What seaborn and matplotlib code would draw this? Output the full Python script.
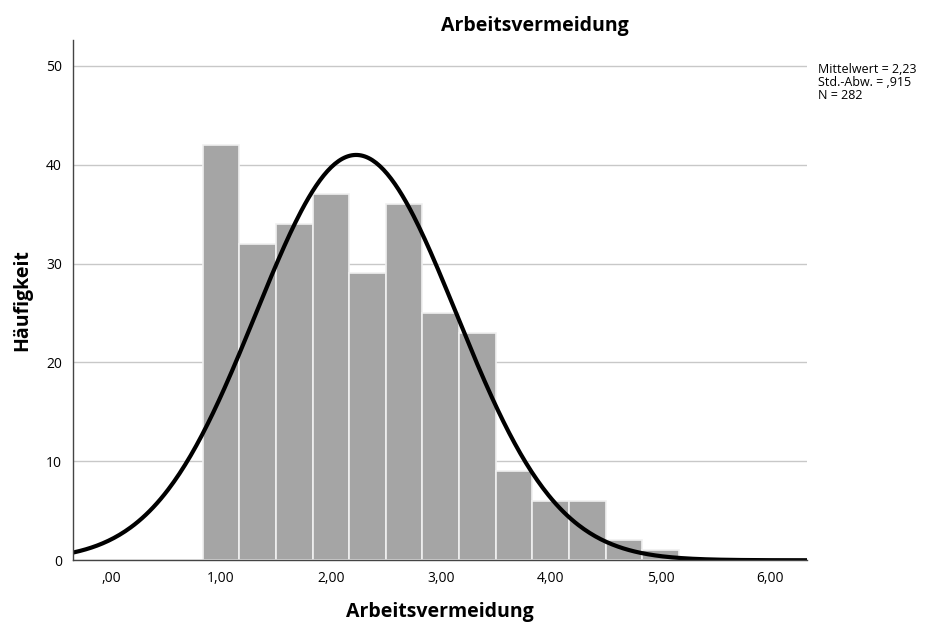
import seaborn as sns
import numpy as np
import pandas as pd
import matplotlib.pyplot as plt

# bin centres (1/3 steps) and counts
bin_centres = [1.0, 4/3, 5/3, 2.0, 7/3, 8/3, 3.0, 10/3, 11/3, 4.0, 13/3, 14/3, 5.0]
counts = [42, 32, 34, 37, 29, 36, 25, 23, 9, 6, 6, 2, 1]
mittelwert = 2.23
std_abw = 0.915
n = 282
x_ticks = [0, 1, 2, 3, 4, 5, 6]
x_ticklabels = [',00', '1,00', '2,00', '3,00', '4,00', '5,00', '6,00']
y_ticks = [0, 10, 20, 30, 40, 50]

df = pd.DataFrame({'Arbeitsvermeidung': bin_centres, 'n': counts})
binw = 1/3

sns.set_style('white')
plt.rcParams['font.family'] = ['Open Sans', 'DejaVu Sans']
plt.rcParams['text.color'] = 'black'

fig = plt.figure(figsize=(9.37, 6.26), dpi=100)
ax = fig.add_axes([0.078, 0.105, 0.783, 0.831])

ax.yaxis.grid(True, color='#c8c8c8', lw=1)
ax.set_axisbelow(True)
sns.histplot(df, x='Arbeitsvermeidung', weights='n', binwidth=binw,
             binrange=(5/6, 5 + 1/6), ax=ax,
             color='#a5a5a5', alpha=1, edgecolor='#f0f0f0', linewidth=1.2)

# normal curve scaled to counts
xs = np.linspace(-0.4, 6.4, 400)
ys = n * binw / (std_abw * np.sqrt(2 * np.pi)) * np.exp(-0.5 * ((xs - mittelwert) / std_abw) ** 2)
sns.lineplot(x=xs, y=ys, ax=ax, color='black', lw=3)

ax.set_xlim(-0.345, 6.33)
ax.set_ylim(0, 52.6)
ax.set_xticks(x_ticks)
ax.set_xticklabels(x_ticklabels, fontsize=10, color='black')
ax.set_yticks(y_ticks)
ax.set_yticklabels([str(v) for v in y_ticks], fontsize=10, color='black')
ax.tick_params(length=0, pad=8)
for s in ['top', 'right']:
    ax.spines[s].set_visible(False)
for s in ['left', 'bottom']:
    ax.spines[s].set_color('#444444')
    ax.spines[s].set_linewidth(1)

ax.set_xlabel('Arbeitsvermeidung', fontsize=14, fontweight='bold', labelpad=11, color='black')
ax.set_ylabel('Häufigkeit', fontsize=14, fontweight='bold', labelpad=10, color='black')
fig.text(0.571, 0.958, 'Arbeitsvermeidung', ha='center', va='center', fontsize=14, fontweight='bold')
fig.text(0.873, 0.9, 'Mittelwert = 2,23\nStd.-Abw. = ,915\nN = 282',
         ha='left', va='top', fontsize=9, linespacing=1.0)

fig.savefig('out.png', dpi=100)
